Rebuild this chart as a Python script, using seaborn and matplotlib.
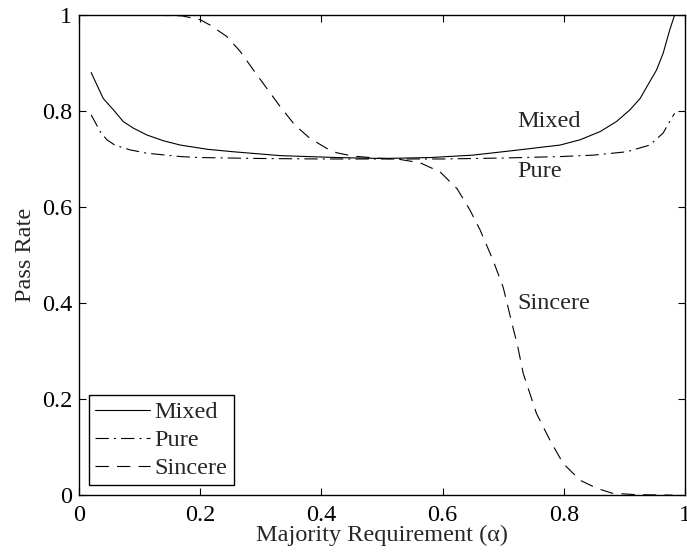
import numpy as np
import pandas as pd
import matplotlib
matplotlib.use("Agg")
import matplotlib.pyplot as plt
import seaborn as sns

# Values
mixed_x = [0.02, 0.04, 0.057, 0.073, 0.09, 0.112, 0.139, 0.167, 0.213, 0.255, 0.332, 0.425,
           0.5, 0.58, 0.65, 0.72, 0.794, 0.827, 0.86, 0.887, 0.909, 0.926, 0.942, 0.953,
           0.964, 0.975, 0.983]
mixed_y = [0.880, 0.826, 0.802, 0.778, 0.764, 0.750, 0.738, 0.729, 0.720, 0.715, 0.707, 0.703,
           0.701, 0.703, 0.708, 0.718, 0.729, 0.740, 0.757, 0.778, 0.802, 0.826, 0.861, 0.885,
           0.920, 0.969, 1.0]

pure_x = [0.02, 0.035, 0.046, 0.059, 0.084, 0.112, 0.167, 0.2, 0.3, 0.4, 0.5, 0.6, 0.7,
          0.794, 0.849, 0.904, 0.942, 0.964, 0.978, 0.983]
pure_y = [0.792, 0.757, 0.740, 0.729, 0.719, 0.712, 0.705, 0.703, 0.701, 0.700, 0.700, 0.700,
          0.702, 0.705, 0.708, 0.715, 0.729, 0.754, 0.785, 0.795]

sincere_x = [0.02, 0.1, 0.17, 0.2, 0.216, 0.244, 0.266, 0.288, 0.31, 0.332, 0.356, 0.381,
             0.409, 0.425, 0.452, 0.49, 0.525, 0.563, 0.596, 0.624, 0.645, 0.662, 0.683, 0.70,
             0.716, 0.724, 0.733, 0.755, 0.777, 0.799, 0.827, 0.855, 0.88, 0.92, 0.98]
sincere_y = [1.0, 1.0, 0.998, 0.99, 0.979, 0.955, 0.924, 0.885, 0.847, 0.809, 0.771, 0.743,
             0.722, 0.713, 0.706, 0.702, 0.700, 0.692, 0.673, 0.638, 0.594, 0.552, 0.49, 0.433,
             0.35, 0.31, 0.254, 0.17, 0.115, 0.066, 0.031, 0.014, 0.004, 0.001, 0.0]

tick_vals = [0, 0.2, 0.4, 0.6, 0.8, 1]
tick_labels = ["0", "0.2", "0.4", "0.6", "0.8", "1"]

sns.set_style("ticks")
plt.rcParams['font.family'] = ['Liberation Serif', 'DejaVu Serif']
plt.rcParams['font.size'] = 17.5

fig = plt.figure(figsize=(6.87, 5.52), dpi=100)
ax = fig.add_axes([0.115, 0.103, 0.882, 0.870])

lw = 0.8
sns.lineplot(x=mixed_x, y=mixed_y, ax=ax, color='k', linewidth=lw,
             linestyle='-', label='Mixed', sort=False)
sns.lineplot(x=pure_x, y=pure_y, ax=ax, color='k', linewidth=lw,
             linestyle=(0, (12, 4.6, 1.8, 4.6)), label='Pure', sort=False)
sns.lineplot(x=sincere_x, y=sincere_y, ax=ax, color='k', linewidth=lw,
             linestyle=(0, (12, 7.4)), label='Sincere', sort=False)

ax.text(0.724, 0.777, 'Mixed', ha='left', va='center')
ax.text(0.724, 0.673, 'Pure', ha='left', va='center')
ax.text(0.724, 0.40, 'Sincere', ha='left', va='center')

ax.set_xlim(0, 1)
ax.set_ylim(0, 1)
ax.set_xticks(tick_vals)
ax.set_xticklabels(tick_labels)
ax.set_yticks(tick_vals)
ax.set_yticklabels(tick_labels)
ax.tick_params(direction='in', top=True, right=True, length=5, width=0.8, colors='k')
ax.tick_params(axis='x', pad=7)
ax.tick_params(axis='y', pad=5)
for s in ax.spines.values():
    s.set_visible(True)
    s.set_linewidth(1.0)
    s.set_color('k')

ax.set_xlabel('Majority Requirement (α)', labelpad=-1)
ax.set_ylabel('Pass Rate', labelpad=4)

leg = ax.legend(loc='lower left', frameon=True, fancybox=False, edgecolor='k',
                framealpha=1, handlelength=2.26, handletextpad=0.2, labelspacing=0.25,
                borderpad=0.25, borderaxespad=0.4)
leg.get_frame().set_linewidth(1.0)

fig.savefig('out.png', dpi=100)
